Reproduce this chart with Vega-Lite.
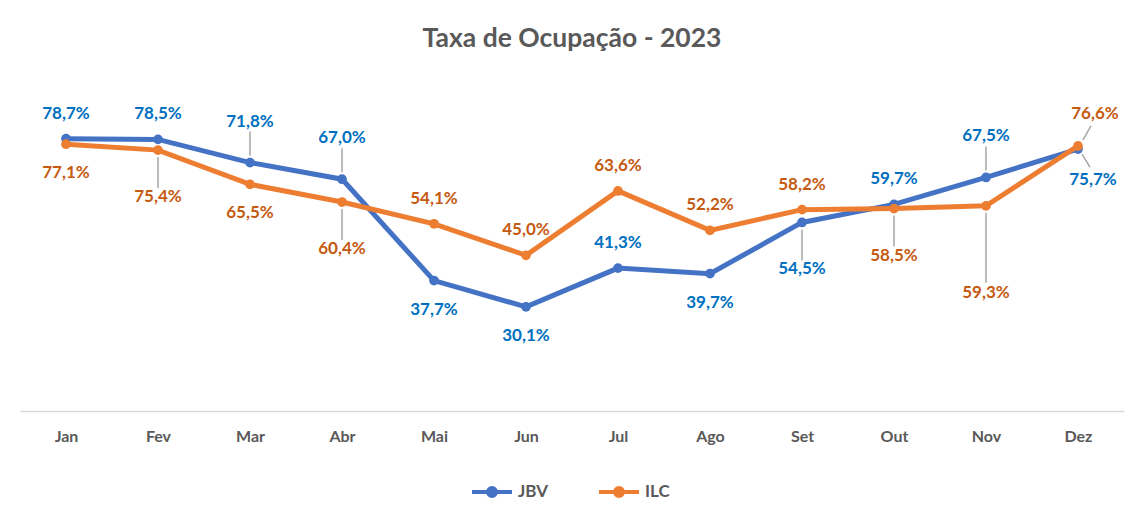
{
  "$schema": "https://vega.github.io/schema/vega-lite/v6.json",
  "width": 1104,
  "height": 346,
  "autosize": {"type": "none"},
  "padding": {"left": 20, "top": 65, "right": 5, "bottom": 107},
  "background": "white",
  "config": {
    "locale": {"number": {"decimal": ",", "thousands": ".", "grouping": [3], "currency": ["R$", ""]}},
    "view": {"stroke": null},
    "font": "Lato"
  },
  "title": {"text": "Taxa de Ocupação - 2023", "font": "Lato", "fontSize": 26.5, "fontWeight": "bold", "color": "#595959", "offset": 13, "anchor": "middle"},
  "data": {"values": [
    {"mes": "Jan", "serie": "JBV", "valor": 0.787, "rotulo": "acima"},
    {"mes": "Fev", "serie": "JBV", "valor": 0.785, "rotulo": "acima"},
    {"mes": "Mar", "serie": "JBV", "valor": 0.718, "rotulo": "acima_longe"},
    {"mes": "Abr", "serie": "JBV", "valor": 0.670, "rotulo": "acima_longe"},
    {"mes": "Mai", "serie": "JBV", "valor": 0.377, "rotulo": "abaixo"},
    {"mes": "Jun", "serie": "JBV", "valor": 0.301, "rotulo": "abaixo"},
    {"mes": "Jul", "serie": "JBV", "valor": 0.413, "rotulo": "acima"},
    {"mes": "Ago", "serie": "JBV", "valor": 0.397, "rotulo": "abaixo"},
    {"mes": "Set", "serie": "JBV", "valor": 0.545, "rotulo": "abaixo_longe"},
    {"mes": "Out", "serie": "JBV", "valor": 0.597, "rotulo": "acima"},
    {"mes": "Nov", "serie": "JBV", "valor": 0.675, "rotulo": "acima_longe"},
    {"mes": "Dez", "serie": "JBV", "valor": 0.757, "rotulo": "direita_abaixo"},
    {"mes": "Jan", "serie": "ILC", "valor": 0.771, "rotulo": "abaixo"},
    {"mes": "Fev", "serie": "ILC", "valor": 0.754, "rotulo": "abaixo_longe"},
    {"mes": "Mar", "serie": "ILC", "valor": 0.655, "rotulo": "abaixo"},
    {"mes": "Abr", "serie": "ILC", "valor": 0.604, "rotulo": "abaixo_longe"},
    {"mes": "Mai", "serie": "ILC", "valor": 0.541, "rotulo": "acima"},
    {"mes": "Jun", "serie": "ILC", "valor": 0.450, "rotulo": "acima"},
    {"mes": "Jul", "serie": "ILC", "valor": 0.636, "rotulo": "acima"},
    {"mes": "Ago", "serie": "ILC", "valor": 0.522, "rotulo": "acima"},
    {"mes": "Set", "serie": "ILC", "valor": 0.582, "rotulo": "acima"},
    {"mes": "Out", "serie": "ILC", "valor": 0.585, "rotulo": "abaixo_longe"},
    {"mes": "Nov", "serie": "ILC", "valor": 0.593, "rotulo": "abaixo_muito_longe"},
    {"mes": "Dez", "serie": "ILC", "valor": 0.766, "rotulo": "direita_acima"}
  ]},
  "encoding": {
    "x": {
      "field": "mes", "type": "ordinal",
      "sort": ["Jan", "Fev", "Mar", "Abr", "Mai", "Jun", "Jul", "Ago", "Set", "Out", "Nov", "Dez"],
      "scale": {"type": "point", "padding": 0.5},
      "axis": {"title": null, "labelAngle": 0, "labelFont": "Lato", "labelFontSize": 16, "labelFontWeight": "bold", "labelColor": "#595959", "labelPadding": 17, "ticks": false, "domainColor": "#D9D9D9", "domainWidth": 1.5, "grid": false}
    },
    "y": {"field": "valor", "type": "quantitative", "scale": {"domain": [0, 1], "nice": false}, "axis": null}
  },
  "layer": [
    {
      "transform": [{"filter": "datum.serie === 'JBV'"}],
      "mark": {"type": "line", "strokeWidth": 5},
      "encoding": {
        "color": {
          "field": "serie", "type": "nominal",
          "scale": {"domain": ["JBV", "ILC"], "range": ["#4472C4", "#ED7D31"]},
          "legend": {
            "orient": "none", "legendX": 450, "legendY": 405, "direction": "horizontal", "title": null,
            "symbolType": "M-1,0L1,0M0.2,0A0.2,0.2,0,1,1,-0.2,0A0.2,0.2,0,1,1,0.2,0",
            "symbolSize": 1600, "symbolStrokeWidth": 4,
            "labelFont": "Lato", "labelFontSize": 17, "labelFontWeight": "bold", "labelColor": "#595959",
            "labelOffset": 4, "columnPadding": 42,
            "encode": {"symbols": {"update": {"fill": {"scale": "color", "field": "value"}}}}
          }
        }
      }
    },
    {
      "transform": [{"filter": "datum.serie === 'JBV'"}],
      "mark": {"type": "circle", "size": 95, "opacity": 1, "color": "#4472C4"},
      "encoding": {}
    },
    {
      "transform": [{"filter": "datum.serie === 'ILC'"}],
      "mark": {"type": "line", "strokeWidth": 5},
      "encoding": {"color": {"field": "serie", "type": "nominal"}}
    },
    {
      "transform": [{"filter": "datum.serie === 'ILC'"}],
      "mark": {"type": "circle", "size": 95, "opacity": 1, "color": "#ED7D31"},
      "encoding": {}
    },
    {
      "transform": [{"filter": "datum.rotulo === 'acima_longe'"}],
      "mark": {"type": "rule", "color": "#A6A6A6", "strokeWidth": 1.5, "yOffset": -7, "y2Offset": -31},
      "encoding": {"y2": {"field": "valor"}}
    },
    {
      "transform": [{"filter": "datum.rotulo === 'abaixo_longe'"}],
      "mark": {"type": "rule", "color": "#A6A6A6", "strokeWidth": 1.5, "yOffset": 7, "y2Offset": 38},
      "encoding": {"y2": {"field": "valor"}}
    },
    {
      "transform": [{"filter": "datum.rotulo === 'abaixo_muito_longe'"}],
      "mark": {"type": "rule", "color": "#A6A6A6", "strokeWidth": 1.5, "yOffset": 7, "y2Offset": 77},
      "encoding": {"y2": {"field": "valor"}}
    },
    {
      "transform": [{"filter": "datum.rotulo === 'direita_acima'"}],
      "mark": {"type": "rule", "color": "#A6A6A6", "strokeWidth": 1.5, "xOffset": 5, "x2Offset": 13, "yOffset": -6, "y2Offset": -20},
      "encoding": {"x2": {"field": "mes"}, "y2": {"field": "valor"}}
    },
    {
      "transform": [{"filter": "datum.rotulo === 'direita_abaixo'"}],
      "mark": {"type": "rule", "color": "#A6A6A6", "strokeWidth": 1.5, "xOffset": 4, "x2Offset": 12, "yOffset": 5, "y2Offset": 18},
      "encoding": {"x2": {"field": "mes"}, "y2": {"field": "valor"}}
    },
    {
      "transform": [{"filter": "datum.rotulo === 'acima'"}],
      "mark": {"type": "text", "dy": -25, "font": "Lato", "fontSize": 17, "fontWeight": "bold", "baseline": "middle"},
      "encoding": {
        "text": {"field": "valor", "type": "quantitative", "format": ".1%"},
        "color": {"condition": {"test": "datum.serie === 'JBV'", "value": "#0070C0"}, "value": "#C55A11"}
      }
    },
    {
      "transform": [{"filter": "datum.rotulo === 'abaixo'"}],
      "mark": {"type": "text", "dy": 29, "font": "Lato", "fontSize": 17, "fontWeight": "bold", "baseline": "middle"},
      "encoding": {
        "text": {"field": "valor", "type": "quantitative", "format": ".1%"},
        "color": {"condition": {"test": "datum.serie === 'JBV'", "value": "#0070C0"}, "value": "#C55A11"}
      }
    },
    {
      "transform": [{"filter": "datum.rotulo === 'acima_longe'"}],
      "mark": {"type": "text", "dy": -41, "font": "Lato", "fontSize": 17, "fontWeight": "bold", "baseline": "middle"},
      "encoding": {
        "text": {"field": "valor", "type": "quantitative", "format": ".1%"},
        "color": {"condition": {"test": "datum.serie === 'JBV'", "value": "#0070C0"}, "value": "#C55A11"}
      }
    },
    {
      "transform": [{"filter": "datum.rotulo === 'abaixo_longe'"}],
      "mark": {"type": "text", "dy": 47, "font": "Lato", "fontSize": 17, "fontWeight": "bold", "baseline": "middle"},
      "encoding": {
        "text": {"field": "valor", "type": "quantitative", "format": ".1%"},
        "color": {"condition": {"test": "datum.serie === 'JBV'", "value": "#0070C0"}, "value": "#C55A11"}
      }
    },
    {
      "transform": [{"filter": "datum.rotulo === 'abaixo_muito_longe'"}],
      "mark": {"type": "text", "dy": 87, "font": "Lato", "fontSize": 17, "fontWeight": "bold", "baseline": "middle"},
      "encoding": {
        "text": {"field": "valor", "type": "quantitative", "format": ".1%"},
        "color": {"condition": {"test": "datum.serie === 'JBV'", "value": "#0070C0"}, "value": "#C55A11"}
      }
    },
    {
      "transform": [{"filter": "datum.rotulo === 'direita_acima'"}],
      "mark": {"type": "text", "dx": 17, "dy": -32, "font": "Lato", "fontSize": 17, "fontWeight": "bold", "baseline": "middle"},
      "encoding": {
        "text": {"field": "valor", "type": "quantitative", "format": ".1%"},
        "color": {"condition": {"test": "datum.serie === 'JBV'", "value": "#0070C0"}, "value": "#C55A11"}
      }
    },
    {
      "transform": [{"filter": "datum.rotulo === 'direita_abaixo'"}],
      "mark": {"type": "text", "dx": 15, "dy": 31, "font": "Lato", "fontSize": 17, "fontWeight": "bold", "baseline": "middle"},
      "encoding": {
        "text": {"field": "valor", "type": "quantitative", "format": ".1%"},
        "color": {"condition": {"test": "datum.serie === 'JBV'", "value": "#0070C0"}, "value": "#C55A11"}
      }
    }
  ]
}
